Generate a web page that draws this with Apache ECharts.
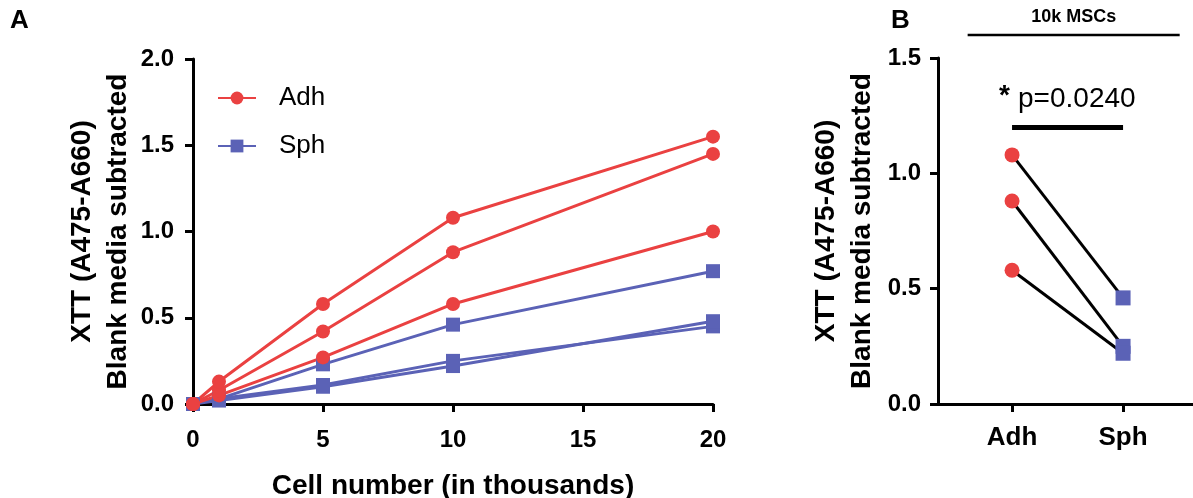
<!DOCTYPE html>
<html>
<head>
<meta charset="utf-8">
<script src="https://cdn.jsdelivr.net/npm/echarts@6/dist/echarts.min.js"></script>
<style>
html,body{margin:0;padding:0;background:#fff;}
#chart{width:1193px;height:498px;}
</style>
</head>
<body>
<div id="chart"></div>
<script>
// ---- Data ----
const cellNumbers = [0, 1, 5, 10, 20];
const adhRep1 = [0, 0.13, 0.58, 1.08, 1.55];
const adhRep2 = [0, 0.08, 0.42, 0.88, 1.45];
const adhRep3 = [0, 0.05, 0.27, 0.58, 1.00];
const sphRep1 = [0, 0.03, 0.23, 0.46, 0.77];
const sphRep2 = [0, 0.03, 0.11, 0.25, 0.45];
const sphRep3 = [0, 0.02, 0.10, 0.22, 0.48];
const pairCategories = ['Adh', 'Sph'];
const pairAdh = [1.08, 0.88, 0.58];
const pairSph = [0.46, 0.25, 0.22];
const pText = 'p=0.0240';
const sigLevel = 1.2;
const groupLabel = '10k MSCs';

const RED = '#EA4141';
const BLUE = '#5B62B6';
const FONT = '"Liberation Sans", Arial, Helvetica, sans-serif';

const chart = echarts.init(document.getElementById('chart'));

function pairs(xs, ys) { return xs.map((x, i) => [x, ys[i]]); }

function lineSeriesA(name, ys, color, symbol) {
  return {
    type: 'line', name: name, xAxisIndex: 0, yAxisIndex: 0,
    data: pairs(cellNumbers, ys),
    symbol: symbol, symbolSize: 14,
    lineStyle: { color: color, width: 3 },
    itemStyle: { color: color },
    emphasis: { disabled: true }, animation: false
  };
}

const axisLineStyle = { show: true, onZero: false, lineStyle: { color: '#000', width: 3 } };
const axisTickStyle = { show: true, length: 8, lineStyle: { color: '#000', width: 3 } };
const tickLabel = { color: '#000', fontFamily: FONT, fontWeight: 'bold', fontSize: 24 };
const nameStyle = { color: '#000', fontFamily: FONT, fontWeight: 'bold', fontSize: 28, lineHeight: 36 };

const seriesB = pairAdh.map((a, i) => ({
  type: 'line', xAxisIndex: 1, yAxisIndex: 1,
  data: [
    { value: [0, a], symbol: 'circle', itemStyle: { color: RED } },
    { value: [1, pairSph[i]], symbol: 'rect', itemStyle: { color: BLUE } }
  ],
  symbolSize: 15,
  lineStyle: { color: '#000', width: 3 },
  emphasis: { disabled: true }, animation: false, z: 3
}));
// significance bar
seriesB[0].markLine = {
  silent: true, symbol: 'none', animation: false,
  lineStyle: { color: '#000', width: 5, type: 'solid' },
  label: { show: false },
  data: [[{ coord: [0, sigLevel] }, { coord: [1, sigLevel] }]]
};

const option = {
  backgroundColor: '#fff',
  animation: false,
  grid: [
    { left: 193, right: 480, top: 59, bottom: 94, containLabel: false, outerBoundsMode: 'none' },
    { left: 938, right: 0, top: 58, bottom: 94, containLabel: false, outerBoundsMode: 'none' }
  ],
  legend: {
    left: 212, top: 80, orient: 'vertical',
    itemWidth: 38, itemHeight: 16, itemGap: 22,
    data: ['Adh', 'Sph'],
    textStyle: { fontFamily: FONT, fontSize: 26, color: '#000', padding: [0, 0, 0, 18] }
  },
  xAxis: [
    {
      type: 'value', gridIndex: 0, min: 0, max: 20, interval: 5,
      name: 'Cell number (in thousands)', nameLocation: 'middle', nameGap: 64,
      nameTextStyle: nameStyle,
      axisLine: axisLineStyle, axisTick: axisTickStyle,
      axisLabel: Object.assign({}, tickLabel, { margin: 24 }),
      splitLine: { show: false }
    },
    {
      type: 'value', gridIndex: 1, min: -0.667, max: 1.63,
      axisLine: axisLineStyle,
      axisTick: Object.assign({ customValues: [0, 1] }, axisTickStyle),
      axisLabel: Object.assign({}, tickLabel, { customValues: [0, 1], margin: 21, fontSize: 26,
        formatter: v => pairCategories[Math.round(v)] }),
      splitLine: { show: false }
    }
  ],
  yAxis: [
    {
      type: 'value', gridIndex: 0, min: 0, max: 2, interval: 0.5,
      name: 'XTT (A475-A660)\nBlank media subtracted', nameLocation: 'middle', nameGap: 55,
      nameRotate: 90, nameTextStyle: nameStyle,
      axisLine: axisLineStyle, axisTick: axisTickStyle,
      axisLabel: Object.assign({}, tickLabel, { margin: 19, formatter: v => v.toFixed(1) }),
      splitLine: { show: false }
    },
    {
      type: 'value', gridIndex: 1, min: 0, max: 1.5, interval: 0.5,
      name: 'XTT (A475-A660)\nBlank media subtracted', nameLocation: 'middle', nameGap: 58,
      nameRotate: 90, nameTextStyle: nameStyle,
      axisLine: axisLineStyle, axisTick: axisTickStyle,
      axisLabel: Object.assign({}, tickLabel, { margin: 17, formatter: v => v.toFixed(1) }),
      splitLine: { show: false }
    }
  ],
  series: [
    lineSeriesA('Sph', sphRep1, BLUE, 'rect'),
    lineSeriesA('Sph', sphRep2, BLUE, 'rect'),
    lineSeriesA('Sph', sphRep3, BLUE, 'rect'),
    lineSeriesA('Adh', adhRep3, RED, 'circle'),
    lineSeriesA('Adh', adhRep2, RED, 'circle'),
    lineSeriesA('Adh', adhRep1, RED, 'circle')
  ].concat(seriesB)
};
chart.setOption(option);

// annotations anchored to data coordinates of panel B
const pA = chart.convertToPixel({ xAxisIndex: 1, yAxisIndex: 1 }, [0, sigLevel]);
const gL = chart.convertToPixel({ xAxisIndex: 1, yAxisIndex: 1 }, [-0.4, 1.6]);
const gR = chart.convertToPixel({ xAxisIndex: 1, yAxisIndex: 1 }, [1.51, 1.6]);
chart.setOption({
  graphic: [
    { type: 'text', left: 10, top: 8, style: { text: 'A', font: 'bold 26px ' + FONT, fill: '#000' } },
    { type: 'text', left: 891, top: 8, style: { text: 'B', font: 'bold 26px ' + FONT, fill: '#000' } },
    { type: 'text', x: (gL[0] + gR[0]) / 2, y: 17, style: { text: groupLabel, font: 'bold 18px ' + FONT, fill: '#000', align: 'center', verticalAlign: 'middle' } },
    { type: 'line', shape: { x1: gL[0], y1: gL[1], x2: gR[0], y2: gR[1] }, style: { stroke: '#000', lineWidth: 2.5 } },
    { type: 'text', x: pA[0] - 13, y: pA[1] - 31, style: { text: '*', font: 'bold 28px ' + FONT, fill: '#000', verticalAlign: 'middle' } },
    { type: 'text', x: pA[0] + 6, y: pA[1] - 28, style: { text: pText, font: '28px ' + FONT, fill: '#000', verticalAlign: 'middle' } }
  ]
});
</script>
</body>
</html>
